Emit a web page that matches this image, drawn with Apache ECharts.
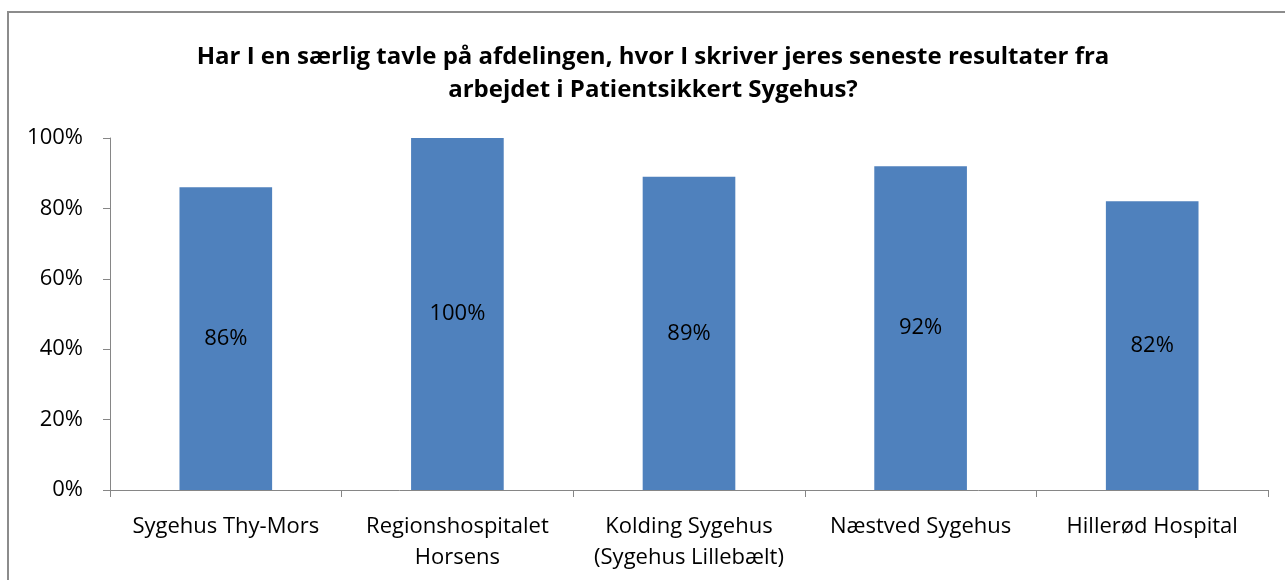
<!DOCTYPE html>
<html>
<head>
<meta charset="utf-8">
<script src="https://cdn.jsdelivr.net/npm/echarts@6/dist/echarts.min.js"></script>
<style>
html,body{margin:0;padding:0;background:#fff;}
#main{width:1285px;height:580px;}
</style>
</head>
<body>
<div id="main"></div>
<script>
// categories + values (procent)
var hospitals = ["Sygehus Thy-Mors", "Regionshospitalet\nHorsens", "Kolding Sygehus\n(Sygehus Lillebælt)", "Næstved Sygehus", "Hillerød Hospital"];
var andel = [86, 100, 89, 92, 82];
var yTicks = [0, 20, 40, 60, 80, 100];

var fnt = "'Open Sans', sans-serif";
var chart = echarts.init(document.getElementById("main"));
var option = {
	backgroundColor: "#fff",
	animation: false,
	title: {
		text: "Har I en særlig tavle på afdelingen, hvor I skriver jeres seneste resultater fra\narbejdet i Patientsikkert Sygehus?",
		left: 648,
		textAlign: "center",
		top: 36,
		textStyle: {fontFamily: fnt, fontSize: 24, fontWeight: "bold", color: "#000", lineHeight: 33}
	},
	graphic: [{
		type: "rect",
		shape: {x: 8, y: 12, width: 1290, height: 580},
		style: {fill: "none", stroke: "#8c8c8c", lineWidth: 2},
		silent: true
	}],
	grid: {left: 110, right: 17, top: 138, bottom: 90},
	xAxis: {
		type: "category",
		data: hospitals,
		axisLine: {lineStyle: {color: "#868686", width: 1}},
		axisTick: {show: true, length: 7, lineStyle: {color: "#868686"}},
		axisLabel: {color: "#000", fontFamily: fnt, fontSize: 22, margin: 21, lineHeight: 31, interval: 0}
	},
	yAxis: {
		type: "value",
		min: yTicks[0],
		max: yTicks[yTicks.length - 1],
		interval: 20,
		axisLine: {show: true, lineStyle: {color: "#868686", width: 1}},
		axisTick: {show: true, length: 7, lineStyle: {color: "#868686"}},
		splitLine: {show: false},
		axisLabel: {color: "#000", fontFamily: fnt, fontSize: 22, margin: 27, formatter: "{value}%"}
	},
	series: [{
		type: "bar",
		data: andel,
		barWidth: "40%",
		itemStyle: {color: "#4f81bd"},
		label: {show: true, position: "inside", formatter: "{c}%", color: "#000", fontFamily: fnt, fontSize: 22}
	}]
};
chart.setOption(option);
</script>
</body>
</html>
